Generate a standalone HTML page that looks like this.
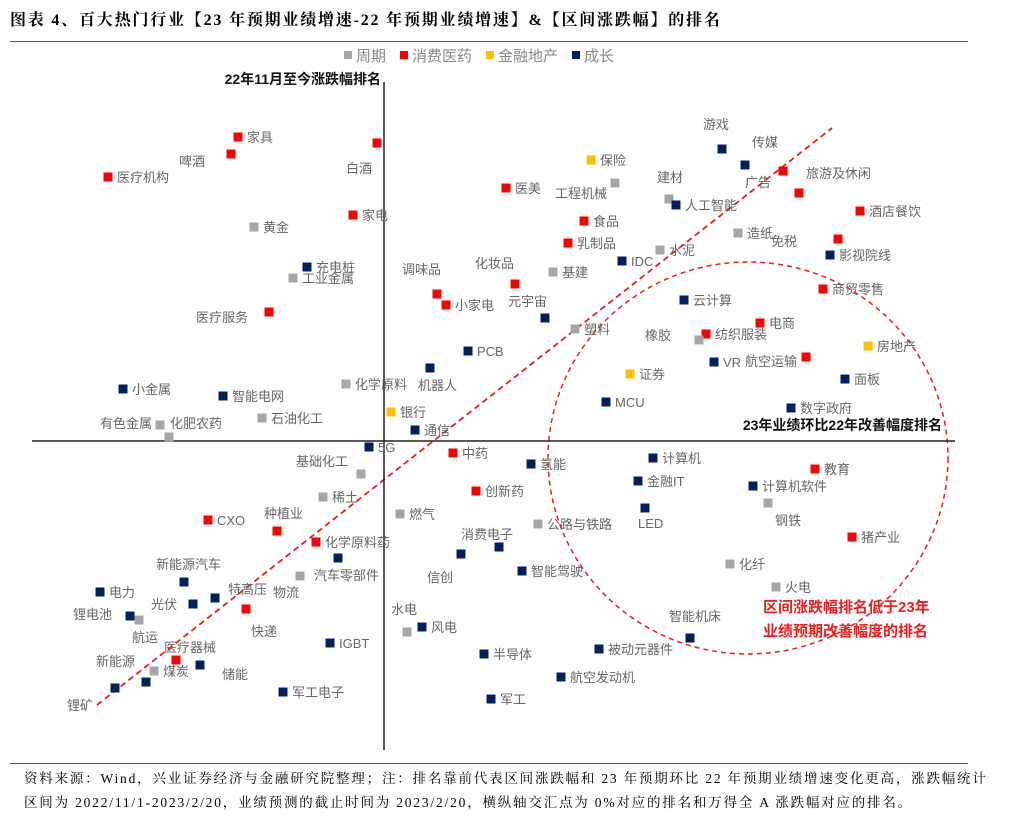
<!DOCTYPE html>
<html><head><meta charset="utf-8">
<style>
body{margin:0;background:#fff;width:1036px;height:822px;overflow:hidden;font-family:"Liberation Sans","Noto Sans CJK SC",sans-serif}
#title{position:absolute;left:10px;top:7px;font:bold 16px "Liberation Serif","Noto Serif CJK SC",serif;letter-spacing:1.8px;color:#000;white-space:nowrap}
#rule1{position:absolute;left:10px;top:41px;width:958px;height:1px;background:#555}
#rule2{position:absolute;left:10px;top:763px;width:958px;height:1px;background:#555}
.foot{position:absolute;left:24px;font:13.5px "Liberation Serif","Noto Serif CJK SC",serif;letter-spacing:1.8px;color:#000;white-space:nowrap}
svg{position:absolute;left:0;top:0}
svg text{font-family:"Liberation Sans","Noto Sans CJK SC",sans-serif}
</style></head><body>
<div id="title">图表 4、百大热门行业【23 年预期业绩增速-22 年预期业绩增速】&amp;【区间涨跌幅】的排名</div>
<div id="rule1"></div>
<div id="rule2"></div>
<div class="foot" style="top:767px">资料来源：Wind，兴业证券经济与金融研究院整理；注：排名靠前代表区间涨跌幅和 23 年预期环比 22 年预期业绩增速变化更高，涨跌幅统计</div>
<div class="foot" style="top:791px">区间为 2022/11/1-2023/2/20，业绩预测的截止时间为 2023/2/20，横纵轴交汇点为 0%对应的排名和万得全 A 涨跌幅对应的排名。</div>
<svg id="chart" width="1036" height="822"></svg>
<script>
// data: x = improvement rank score, y = price-change rank score (origin = axis crossing)
const names=["家具","啤酒","医疗机构","白酒","黄金","家电","充电桩","工业金属","医疗服务","小金属","智能电网","化学原料","机器人","PCB","调味品","小家电","化妆品","元宇宙","基建","乳制品","食品","医美","保险","工程机械","建材","人工智能","游戏","传媒","广告","旅游及休闲","酒店餐饮","造纸","水泥","IDC","免税","影视院线","商贸零售","云计算","电商","纺织服装","橡胶","塑料","房地产","VR","航空运输","证券","面板","MCU","数字政府","银行","通信","有色金属","化肥农药","石油化工","5G","基础化工","中药","氢能","计算机","金融IT","教育","计算机软件","稀土","创新药","钢铁","燃气","LED","公路与铁路","CXO","种植业","猪产业","化学原料药","消费电子","信创","智能驾驶","新能源汽车","物流","汽车零部件","化纤","电力","光伏","特高压","火电","锂电池","航运","快递","水电","风电","智能机床","IGBT","被动元器件","医疗器械","半导体","新能源","煤炭","储能","锂矿","航空发动机","军工电子","军工"];
const groups=["消费医药","消费医药","消费医药","消费医药","周期","消费医药","成长","周期","消费医药","成长","成长","周期","成长","成长","消费医药","消费医药","消费医药","成长","周期","消费医药","消费医药","消费医药","金融地产","周期","周期","成长","成长","成长","消费医药","消费医药","消费医药","周期","周期","成长","消费医药","成长","消费医药","成长","消费医药","消费医药","周期","周期","金融地产","成长","消费医药","金融地产","成长","成长","成长","金融地产","成长","周期","周期","周期","成长","周期","消费医药","成长","成长","成长","消费医药","成长","周期","消费医药","周期","周期","成长","周期","消费医药","消费医药","消费医药","消费医药","成长","成长","成长","成长","周期","成长","周期","成长","成长","成长","周期","成长","周期","消费医药","周期","成长","成长","成长","成长","消费医药","成长","成长","周期","成长","成长","成长","成长","成长"];
const xVals=[-146,-153,-276,-7,-130,-31,-77,-91,-115,-261,-161,-38,46,84,53,62,131,161,169,184,200,122,207,231,285,292,338,361,399,415,476,354,276,238,454,446,439,300,376,322,315,191,484,330,422,246,461,222,407,7,31,-224,-215,-122,-15,-23,69,147,269,254,431,369,-61,92,384,16,261,154,-176,-107,468,-68,115,77,138,-200,-84,-46,346,-284,-191,-169,392,-254,-245,-138,23,38,306,-54,215,-208,100,-238,-230,-184,-269,177,-101,107];
const yVals=[304,287,264,298,214,226,174,163,129,52,45,57,73,90,147,136,157,123,169,198,220,253,281,258,242,236,292,276,270,248,230,208,191,180,202,186,152,141,118,107,101,112,95,79,84,67,62,39,33,29,11,16,4,23,-6,-33,-12,-23,-17,-40,-28,-45,-56,-50,-62,-73,-67,-83,-79,-90,-96,-101,-106,-113,-130,-141,-135,-117,-123,-151,-163,-157,-146,-175,-179,-168,-191,-186,-197,-202,-208,-219,-213,-241,-230,-224,-247,-236,-251,-258];
const legendLabels=["周期","消费医药","金融地产","成长"];
// layout
const OX=384, OY=441;
function xs(v){return OX+v;}
function ys(v){return OY-v;}
const colorOf={"周期":"#a6a6a6","消费医药":"#ff0000","金融地产":"#ffc000","成长":"#002060"};
const place={"啤酒":[-26,12,"end"],"白酒":[-5,30,"end"],"医疗服务":[-21,10,"end"],"机器人":[-12,22,"start"],"调味品":[-35,-20,"start"],"化妆品":[-40,-16,"start"],"元宇宙":[-37,-12,"start"],"工程机械":[-60,15,"start"],"建材":[-12,-17,"start"],"游戏":[-19,-20,"start"],"传媒":[7,-18,"start"],"广告":[-38,16,"start"],"旅游及休闲":[7,-15,"start"],"免税":[-67,7,"start"],"橡胶":[-54,0,"start"],"航空运输":[-61,9,"start"],"有色金属":[-60,3,"start"],"化肥农药":[1,-9,"start"],"基础化工":[-65,-8,"start"],"钢铁":[7,22,"start"],"LED":[-7,20,"start"],"种植业":[-13,-13,"start"],"消费电子":[-38,-8,"start"],"信创":[-34,28,"start"],"新能源汽车":[-28,-13,"start"],"物流":[-27,21,"start"],"汽车零部件":[-24,22,"start"],"光伏":[-42,5,"start"],"特高压":[13,-4,"start"],"锂电池":[-57,3,"start"],"航运":[-7,22,"start"],"快递":[5,27,"start"],"水电":[-16,-18,"start"],"智能机床":[-21,-17,"start"],"医疗器械":[-12,-8,"start"],"新能源":[-50,-16,"start"],"储能":[22,14,"start"],"锂矿":[-48,22,"start"]};
const svg=document.getElementById('chart');
const NS="http://www.w3.org/2000/svg";
function mk(tag,attrs){const e=document.createElementNS(NS,tag);for(const k in attrs)e.setAttribute(k,attrs[k]);svg.appendChild(e);return e;}
let e=mk('ellipse',{cx:748,cy:458,rx:200,ry:196,fill:'none',stroke:'#e81c1c','stroke-width':1.5,'stroke-dasharray':'5,4'});


let tl=mk('line',{x1:xs(-287),y1:ys(-264),x2:xs(448),y2:ys(313),stroke:'#e81c1c','stroke-width':1.8,'stroke-dasharray':'6,4'});


let ax=mk('line',{x1:32,y1:OY,x2:955,y2:OY,stroke:'#222','stroke-width':1.5});


let ay=mk('line',{x1:OX,y1:82,x2:OX,y2:750,stroke:'#222','stroke-width':1.5});


let yt=mk('text',{x:381,y:84,'text-anchor':'end','font-size':14,'font-weight':'bold',fill:'#111'});yt.textContent="22年11月至今涨跌幅排名";


let xt=mk('text',{x:942,y:430,'text-anchor':'end','font-size':14,'font-weight':'bold',fill:'#111'});xt.textContent="23年业绩环比22年改善幅度排名";


["区间涨跌幅排名低于23年","业绩预期改善幅度的排名"].forEach((s,i)=>{
 const t=mk('text',{x:763,y:612+i*24,'font-size':15,'font-weight':'bold',fill:'#ee1c1c'});t.textContent=s;
 
 
});
let lx=344;
legendLabels.forEach(l=>{
 const r=mk('rect',{x:lx,y:51,width:8,height:8,fill:colorOf[l]});
 
 
 const t=mk('text',{x:lx+12,y:61,'font-size':15,fill:'#888'});t.textContent=l;
 
 
 lx+=12+l.length*15+14;
});
names.forEach((n,i)=>{
 const cx=xs(xVals[i]), cy=ys(yVals[i]);
 const r=mk('rect',{x:cx-4.5,y:cy-4.5,width:9,height:9,fill:colorOf[groups[i]]});
 
 
 const p=place[n]||[9,5,"start"];
 const t=mk('text',{x:cx+p[0],y:cy+p[1],'text-anchor':p[2],'font-size':13,fill:'#666'});t.textContent=n;
 
 
});
</script>
</body></html>
